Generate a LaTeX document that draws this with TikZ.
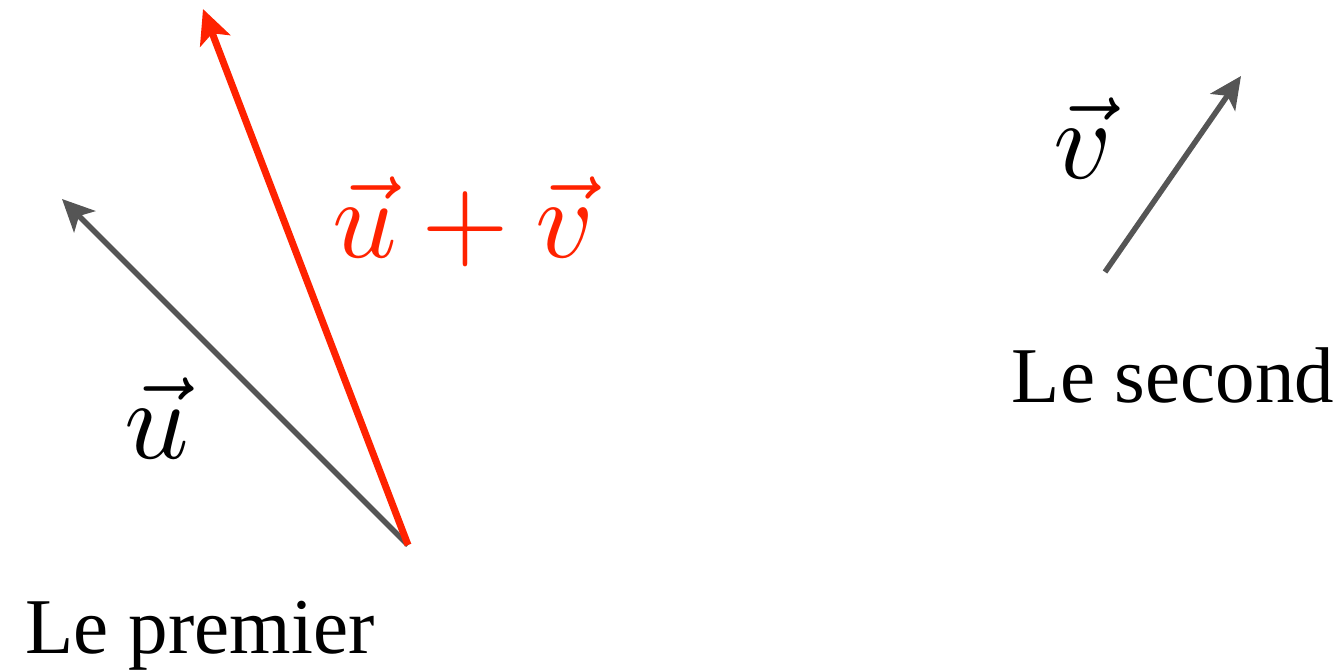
\documentclass[tikz,border=0pt]{standalone}
\usepackage{graphicx}
\usepackage{fontspec}
\setmainfont{Liberation Serif}
\usetikzlibrary{arrows.meta}
\definecolor{vgray}{HTML}{555555}
\definecolor{vred}{HTML}{FF2200}
\newcommand{\bigmath}[1]{\scalebox{11.3}{$#1$}}
\tikzset{
  vecarrow/.style={line width=5.5pt, draw=vgray, -{Stealth[length=32pt,width=30pt,inset=8pt]}},
  sumarrow/.style={line width=7pt, draw=vred, -{Stealth[length=34pt,width=32pt,inset=8pt]}},
  mathlbl/.style={inner sep=0pt},
  txtlbl/.style={inner sep=0pt, anchor=base, font=\fontsize{79}{90}\selectfont}
}
\begin{document}
\begin{tikzpicture}[x=1pt,y=-1pt]
\useasboundingbox (0,0) rectangle (1340,671);
\coordinate (O) at (408,545);
\coordinate (U) at (62,199);
\coordinate (S) at (203,9);
\coordinate (V0) at (1105,272);
\coordinate (V1) at (1241,76);
\draw[vecarrow] (O) -- (U);
\draw[sumarrow] (O) -- (S);
\draw[vecarrow] (V0) -- (V1);
\node[mathlbl] (lu) at (157,418) {\bigmath{\vec u}};
\node[mathlbl, text=vred] (luv) at (463,222) {\bigmath{\vec u+\vec v}};
\node[mathlbl] (lv) at (1083,138) {\bigmath{\vec v}};
\node[txtlbl] (t1) at (200,653) {Le premier};
\node[txtlbl] (t2) at (1173,402) {Le second};
\end{tikzpicture}
\end{document}
